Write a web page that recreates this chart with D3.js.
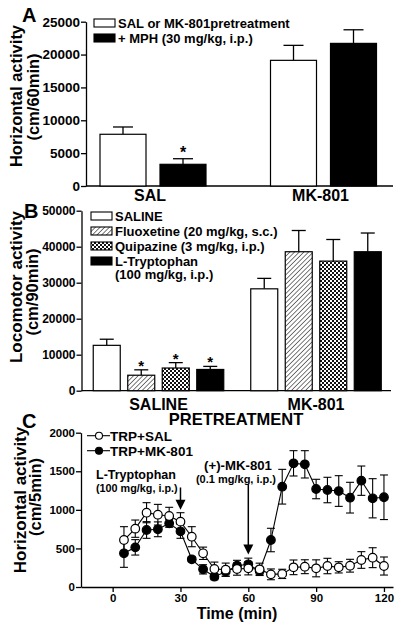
<!DOCTYPE html>
<html><head><meta charset="utf-8">
<script src="https://cdn.jsdelivr.net/npm/d3@7/dist/d3.min.js"></script>
<style>
html,body{margin:0;padding:0;background:#fff;}
svg text{font-family:"Liberation Sans",Arial,Helvetica,sans-serif;font-weight:bold;fill:#000;}
</style></head>
<body><svg id="c" width="400" height="629"></svg>
<script>
// ---------- DATA ----------
// Panel A
const catsA = ["SAL", "MK-801"];
const seriesA = ["SAL or MK-801pretreatment", "+ MPH (30 mg/kg, i.p.)"];
const pretreatA = [7870, 19120];
const pretreatErrA = [1110, 2280];
const mphA = [3300, 21700];
const mphErrA = [850, 2070];
const sigA = [false, true, false, false]; // [SAL-pre, SAL-mph, MK-pre, MK-mph]
const ticksA = [0, 5000, 10000, 15000, 20000, 25000];

// Panel B
const catsB = ["SALINE", "MK-801"];
const seriesB = ["SALINE", "Fluoxetine (20 mg/kg, s.c.)", "Quipazine (3 mg/kg, i.p.)", "L-Tryptophan"];
const seriesBSub = ["", "", "", "(100 mg/kg, i.p.)"];
const salineB = [12600, 28300];
const salineErrB = [1700, 2900];
const fluoxB = [4300, 38600];
const fluoxErrB = [1500, 5900];
const quipB = [6300, 36000];
const quipErrB = [1500, 6000];
const ltrpB = [5900, 38600];
const ltrpErrB = [850, 5200];
const sigB = [[false, true, true, true], [false, false, false, false]];
const ticksB = [0, 10000, 20000, 30000, 40000, 50000];
const groupTitleB = "PRETREATMENT";

// Panel C
const timeC = [5,10,15,20,25,30,35,40,45,50,55,60,65,70,75,80,85,90,95,100,105,110,115,120];
const trpSal = [609,756,963,937,920,847,652,437,233,225,233,242,229,164,170,255,263,242,272,255,276,350,380,272];
const trpSalErr = [173,112,130,134,113,116,130,80,90,85,80,85,80,70,60,95,90,110,100,73,83,108,129,117];
const trpMk = [437,514,739,748,825,722,359,229,134,199,276,294,207,609,1300,1603,1590,1270,1257,1244,1158,1378,1150,1163];
const trpMkErr = [182,100,108,96,51,91,30,60,40,60,70,80,50,152,225,164,177,126,165,199,199,190,254,289];
const seriesC = ["TRP+SAL", "TRP+MK-801"];
const ticksCx = [0, 30, 60, 90, 120];
const ticksCy = [0, 500, 1000, 1500, 2000];
const arrowsC = [
  {t: 30, from: 1290, to: 1000, label: "L-Tryptophan", sub: "(100 mg/kg, i.p.)"},
  {t: 60, from: 1330, to: 420, label: "(+)-MK-801", sub: "(0.1 mg/kg, i.p.)"}
];

// ---------- DRAW ----------
const svg = d3.select("#c");
svg.append("rect").attr("width", 400).attr("height", 629).attr("fill", "#fff");

const defs = svg.append("defs");
const hatch = defs.append("pattern").attr("id", "hatch").attr("patternUnits", "userSpaceOnUse")
  .attr("width", 3.3).attr("height", 3.3).attr("patternTransform", "rotate(45)");
hatch.append("rect").attr("width", 3.3).attr("height", 3.3).attr("fill", "#fff");
hatch.append("line").attr("x1", 0).attr("y1", 0).attr("x2", 0).attr("y2", 3.3)
  .attr("stroke", "#222").attr("stroke-width", 1.2);
const cross = defs.append("pattern").attr("id", "cross").attr("patternUnits", "userSpaceOnUse")
  .attr("width", 4).attr("height", 4);
cross.append("rect").attr("width", 4).attr("height", 4).attr("fill", "#fff");
cross.append("rect").attr("width", 2).attr("height", 2).attr("fill", "#111");
cross.append("rect").attr("x", 2).attr("y", 2).attr("width", 2).attr("height", 2).attr("fill", "#111");

function yAxis(g, scale, ticks, fs) {
  const ax = d3.axisLeft(scale).tickValues(ticks).tickFormat(d3.format("d")).tickSize(5).tickSizeOuter(0);
  g.call(ax);
  g.select(".domain").attr("stroke", "#000").attr("stroke-width", 1.3);
  g.selectAll(".tick line").attr("stroke", "#000").attr("stroke-width", 1.3);
  g.selectAll(".tick text").attr("font-size", fs).attr("font-weight", "bold")
    .attr("font-family", '"Liberation Sans",Arial,sans-serif').attr("x", -6).attr("fill", "#000");
}

// ===== Panel A =====
const yA = d3.scaleLinear().domain([0, 25000]).range([186, 21.7]);
const xA = d3.scaleBand().domain(catsA).range([67.75, 408.75]);
const xAin = d3.scaleBand().domain([0, 1]).range([0, xA.bandwidth()]).paddingInner(0.2333).paddingOuter(0.5375);
const gA = svg.append("g");
yAxis(gA.append("g").attr("transform", "translate(86,0)"), yA, ticksA, 13.5);
gA.append("line").attr("x1", 86).attr("x2", 393).attr("y1", yA(0)).attr("y2", yA(0)).attr("stroke", "#000").attr("stroke-width", 1.3);

const barsA = [];
catsA.forEach((c, i) => {
  barsA.push({c, s: 0, v: pretreatA[i], e: pretreatErrA[i], sig: sigA[i * 2]});
  barsA.push({c, s: 1, v: mphA[i], e: mphErrA[i], sig: sigA[i * 2 + 1]});
});
const capA = 20;
barsA.forEach(d => {
  const x = xA(d.c) + xAin(d.s), w = xAin.bandwidth();
  const top = yA(d.v), et = yA(d.v + d.e), cx = x + w / 2;
  gA.append("line").attr("x1", cx).attr("x2", cx).attr("y1", top).attr("y2", et).attr("stroke", "#000").attr("stroke-width", 1.3);
  gA.append("line").attr("x1", cx - capA / 2).attr("x2", cx + capA / 2).attr("y1", et).attr("y2", et).attr("stroke", "#000").attr("stroke-width", 1.3);
  gA.append("rect").attr("x", x).attr("y", top).attr("width", w).attr("height", yA(0) - top)
    .attr("fill", d.s === 0 ? "#fff" : "#000").attr("stroke", "#000").attr("stroke-width", 1.2);
  if (d.sig) gA.append("text").attr("x", cx).attr("y", et - 1).attr("text-anchor", "middle").attr("font-size", 16).text("*");
});
catsA.forEach(c => {
  gA.append("text").attr("x", xA(c) + xA.bandwidth() / 2 - 3).attr("y", 201).attr("text-anchor", "middle")
    .attr("font-size", 16).text(c);
});
// legend A
seriesA.forEach((s, i) => {
  const ly = 19 + i * 15;
  gA.append("rect").attr("x", 94).attr("y", ly).attr("width", 21).attr("height", 8)
    .attr("fill", i === 0 ? "#fff" : "#000").attr("stroke", "#000").attr("stroke-width", 1.1);
  gA.append("text").attr("x", 118).attr("y", ly + 8.5).attr("font-size", 13).text(s);
});
gA.append("text").attr("x", 22).attr("y", 22).attr("font-size", 20).text("A");
gA.append("text").attr("transform", "translate(22,96) rotate(-90)").attr("text-anchor", "middle").attr("font-size", 16.5).text("Horizontal activity");
gA.append("text").attr("transform", "translate(38.5,97) rotate(-90)").attr("text-anchor", "middle").attr("font-size", 16.5).text("(cm/60min)");

// ===== Panel B =====
const yB = d3.scaleLinear().domain([0, 50000]).range([390.7, 210.7]);
const xB = d3.scaleBand().domain(catsB).range([79.75, 394.75]);
const xBin = d3.scaleBand().domain([0, 1, 2, 3]).range([0, xB.bandwidth()]).paddingInner(0.2174).paddingOuter(0.391);
const gB = svg.append("g");
yAxis(gB.append("g").attr("transform", "translate(81.5,0)"), yB, ticksB, 12);
gB.append("line").attr("x1", 81.5).attr("x2", 391).attr("y1", yB(0)).attr("y2", yB(0)).attr("stroke", "#000").attr("stroke-width", 1.3);
const valsB = [salineB, fluoxB, quipB, ltrpB];
const errsB = [salineErrB, fluoxErrB, quipErrB, ltrpErrB];
const fillsB = ["#fff", "url(#hatch)", "url(#cross)", "#000"];
const capB = 14;
catsB.forEach((c, i) => {
  valsB.forEach((arr, s) => {
    const x = xB(c) + xBin(s), w = xBin.bandwidth();
    const top = yB(arr[i]), et = yB(arr[i] + errsB[s][i]), cx = x + w / 2;
    gB.append("line").attr("x1", cx).attr("x2", cx).attr("y1", top).attr("y2", et).attr("stroke", "#000").attr("stroke-width", 1.3);
    gB.append("line").attr("x1", cx - capB / 2).attr("x2", cx + capB / 2).attr("y1", et).attr("y2", et).attr("stroke", "#000").attr("stroke-width", 1.3);
    gB.append("rect").attr("x", x).attr("y", top).attr("width", w).attr("height", yB(0) - top)
      .attr("fill", fillsB[s]).attr("stroke", "#000").attr("stroke-width", 1.2);
    if (sigB[i][s]) gB.append("text").attr("x", cx).attr("y", et + 1).attr("text-anchor", "middle").attr("font-size", 15).text("*");
  });
  gB.append("text").attr("x", xB(c) + xB.bandwidth() / 2).attr("y", 410).attr("text-anchor", "middle").attr("font-size", 16).text(c);
});
gB.append("text").attr("x", 236).attr("y", 424.5).attr("text-anchor", "middle").attr("font-size", 16.5).text(groupTitleB);
seriesB.forEach((s, i) => {
  const ly = 212 + i * 15;
  gB.append("rect").attr("x", 91).attr("y", ly).attr("width", 21).attr("height", 8)
    .attr("fill", fillsB[i]).attr("stroke", "#000").attr("stroke-width", 1.1);
  gB.append("text").attr("x", 115).attr("y", ly + 8.5).attr("font-size", 13).text(s);
  if (seriesBSub[i]) gB.append("text").attr("x", 115).attr("y", ly + 22).attr("font-size", 13).text(seriesBSub[i]);
});
gB.append("text").attr("x", 24).attr("y", 218).attr("font-size", 20).text("B");
gB.append("text").attr("transform", "translate(22,287) rotate(-90)").attr("text-anchor", "middle").attr("font-size", 17).text("Locomotor activity");
gB.append("text").attr("transform", "translate(37.5,292) rotate(-90)").attr("text-anchor", "middle").attr("font-size", 16.5).text("(cm/90min)");

// ===== Panel C =====
const xC = d3.scaleLinear().domain([-14, 124]).range([81, 393]);
const yC = d3.scaleLinear().domain([0, 2000]).range([587, 432.7]);
const gC = svg.append("g");
yAxis(gC.append("g").attr("transform", "translate(81,0)"), yC, ticksCy, 11.5);
const gx = gC.append("g").attr("transform", `translate(0,${yC(0)})`);
gx.call(d3.axisBottom(xC).tickValues(ticksCx).tickSize(5).tickSizeOuter(0));
gx.select(".domain").attr("stroke", "#000").attr("stroke-width", 1.3);
gx.selectAll(".tick line").attr("stroke", "#000").attr("stroke-width", 1.3);
gx.selectAll(".tick text").attr("font-size", 11.5).attr("font-weight", "bold")
  .attr("font-family", '"Liberation Sans",Arial,sans-serif').attr("y", 7).attr("fill", "#000");

const dataC = [
  {vals: trpMk, errs: trpMkErr, fill: "#000"},
  {vals: trpSal, errs: trpSalErr, fill: "#fff"}
];
const cap = 8;
dataC.forEach(s => {
  const pts = timeC.map((t, i) => ({t, v: s.vals[i], e: s.errs[i]}));
  pts.forEach(p => {
    const cx = xC(p.t), y1 = yC(p.v - p.e), y2 = yC(p.v + p.e);
    gC.append("line").attr("x1", cx).attr("x2", cx).attr("y1", y1).attr("y2", y2).attr("stroke", "#000").attr("stroke-width", 1.1);
    [y1, y2].forEach(yy => gC.append("line").attr("x1", cx - cap / 2).attr("x2", cx + cap / 2).attr("y1", yy).attr("y2", yy).attr("stroke", "#000").attr("stroke-width", 1.1));
  });
  gC.append("path").datum(pts).attr("fill", "none").attr("stroke", "#000").attr("stroke-width", 1.1)
    .attr("d", d3.line().x(d => xC(d.t)).y(d => yC(d.v)));
  gC.selectAll(null).data(pts).enter().append("circle")
    .attr("cx", d => xC(d.t)).attr("cy", d => yC(d.v)).attr("r", 4.3)
    .attr("fill", s.fill).attr("stroke", "#000").attr("stroke-width", 1.2);
});
// arrows
arrowsC.forEach(a => {
  const x = xC(a.t), yt = yC(a.from), yb = yC(a.to);
  gC.append("line").attr("x1", x).attr("x2", x).attr("y1", yt).attr("y2", yb - 8).attr("stroke", "#000").attr("stroke-width", 1.5);
  gC.append("path").attr("d", `M${x - 5},${yb - 10}L${x + 5},${yb - 10}L${x},${yb}Z`).attr("fill", "#000");
});
gC.append("text").attr("x", 96).attr("y", 478.5).attr("font-size", 12.5).text(arrowsC[0].label);
gC.append("text").attr("x", 96).attr("y", 491.5).attr("font-size", 10.8).text(arrowsC[0].sub);
gC.append("text").attr("x", 238).attr("y", 469.5).attr("text-anchor", "middle").attr("font-size", 13.2).text(arrowsC[1].label);
gC.append("text").attr("x", 236).attr("y", 482.5).attr("text-anchor", "middle").attr("font-size", 11).text(arrowsC[1].sub);
// legend C
seriesC.forEach((s, i) => {
  const ly = 435.7 + i * 15;
  gC.append("line").attr("x1", 87).attr("x2", 110).attr("y1", ly).attr("y2", ly).attr("stroke", "#000").attr("stroke-width", 1.1);
  gC.append("circle").attr("cx", 99).attr("cy", ly).attr("r", 3.5).attr("fill", i === 0 ? "#fff" : "#000").attr("stroke", "#000").attr("stroke-width", 1.1);
  gC.append("text").attr("x", 110).attr("y", ly + 5).attr("font-size", 13.5).text(s);
});
gC.append("text").attr("x", 22).attr("y", 428).attr("font-size", 20).text("C");
gC.append("text").attr("transform", "translate(25.5,500) rotate(-90)").attr("text-anchor", "middle").attr("font-size", 17).text("Horizontal activity");
gC.append("text").attr("transform", "translate(41,497) rotate(-90)").attr("text-anchor", "middle").attr("font-size", 16.5).text("(cm/5min)");
gC.append("text").attr("x", 237).attr("y", 619).attr("text-anchor", "middle").attr("font-size", 16).text("Time (min)");
</script></body></html>
